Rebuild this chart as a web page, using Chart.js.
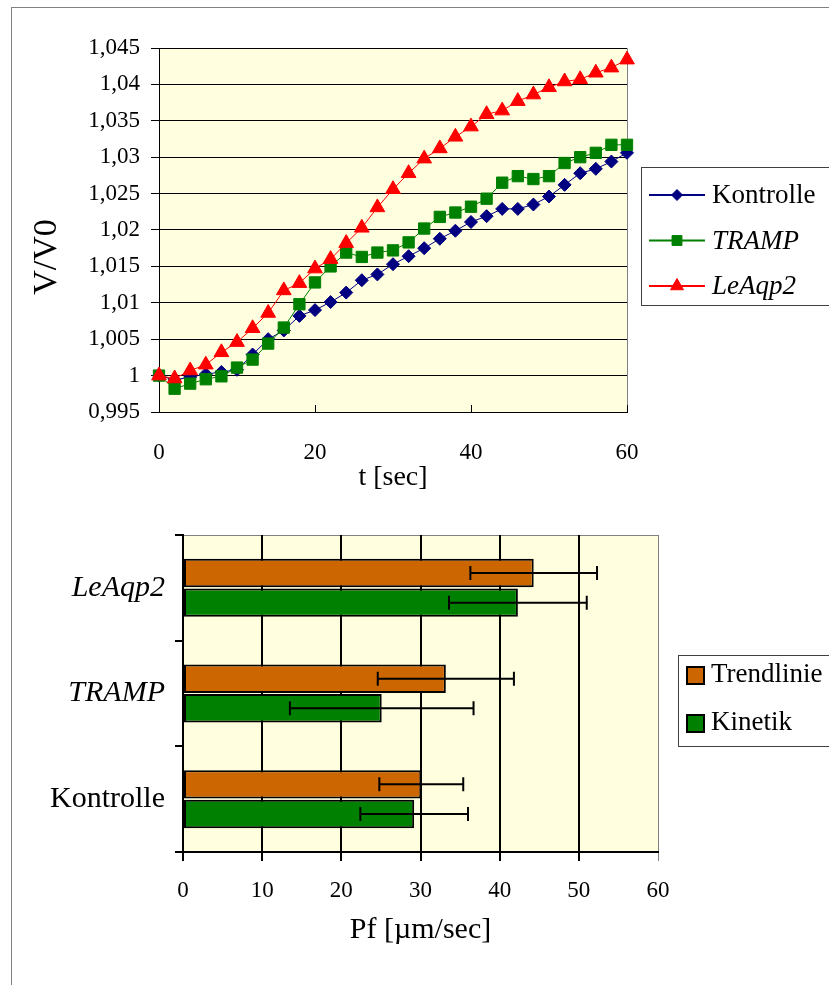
<!DOCTYPE html>
<html>
<head>
<meta charset="utf-8">
<script src="https://cdn.jsdelivr.net/npm/chart.js@4/dist/chart.umd.min.js"></script>
<style>
  body { margin: 0; background: #fff; width: 829px; height: 985px; overflow: hidden; position: relative; }
  #frame { position: absolute; left: 11px; top: 7px; width: 900px; height: 1100px; border: 1px solid #808080; }
  #lineChart { position: absolute; left: 0; top: 0; }
  #barChart { position: absolute; left: 0; top: 500px; }
</style>
</head>
<body>
<div id="frame"></div>
<canvas id="lineChart" width="829" height="500"></canvas>
<canvas id="barChart" width="829" height="485"></canvas>

<script>
    // swelling kinetics, V/V0 over time
    var time = [0, 2, 4, 6, 8, 10, 12, 14, 16, 18, 20, 22, 24, 26, 28, 30,
                32, 34, 36, 38, 40, 42, 44, 46, 48, 50, 52, 54, 56, 58, 60];
    var kontrolle = [1.0000, 0.9994, 0.9998, 1.0002, 1.0005, 1.0008, 1.0029, 1.0050, 1.0062, 1.0082, 1.0090,
                     1.0101, 1.0114, 1.0131, 1.0139, 1.0153, 1.0164, 1.0175, 1.0188, 1.0199, 1.0211,
                     1.0219, 1.0229, 1.0229, 1.0235, 1.0246, 1.0262, 1.0278, 1.0284, 1.0294, 1.0306];
    var tramp = [1.0000, 0.9982, 0.9989, 0.9995, 0.9999, 1.0011, 1.0022, 1.0044, 1.0066, 1.0098, 1.0128,
                 1.0150, 1.0169, 1.0163, 1.0169, 1.0172, 1.0183, 1.0202, 1.0218, 1.0224, 1.0232,
                 1.0243, 1.0265, 1.0274, 1.0270, 1.0274, 1.0292, 1.0300, 1.0306, 1.0317, 1.0317];
    var leaqp2 = [1.0000, 0.9996, 1.0007, 1.0015, 1.0032, 1.0046, 1.0065, 1.0086, 1.0117, 1.0127, 1.0147,
                  1.0160, 1.0182, 1.0203, 1.0231, 1.0256, 1.0278, 1.0298, 1.0312, 1.0328, 1.0342,
                  1.0359, 1.0364, 1.0377, 1.0386, 1.0396, 1.0404, 1.0407, 1.0416, 1.0423, 1.0434];
    var seriesNames = ['Kontrolle', 'TRAMP', 'LeAqp2'];

    // Pf values with error
    var groups = ['LeAqp2', 'TRAMP', 'Kontrolle'];
    var barNames = ['Trendlinie', 'Kinetik'];
    var trendlinie = [44.3, 33.2, 30.1];
    var trendlinieErr = [8.0, 8.6, 5.3];
    var kinetik = [42.3, 25.1, 29.2];
    var kinetikErr = [8.7, 11.6, 6.8];

    var FONT = "'Liberation Serif', 'Times New Roman', serif";
    var italicNames = { 'TRAMP': true, 'LeAqp2': true };

    function pairs(xs, ys) {
        return xs.map(function (x, i) { return { x: x, y: ys[i] }; });
    }
    function px(v) { return Math.round(v) + 0.5; }

    // background + grey frame of the plot area
    var plotFrame = {
        id: 'plotFrame',
        beforeDraw: function (chart) {
            var a = chart.chartArea, c = chart.ctx;
            c.save();
            c.fillStyle = '#FFFFE0';
            c.fillRect(a.left, a.top, a.right - a.left, a.bottom - a.top);
            c.strokeStyle = '#808080';
            c.lineWidth = 1;
            c.beginPath();
            c.moveTo(px(a.left), px(a.top));
            c.lineTo(px(a.right), px(a.top));
            c.lineTo(px(a.right), px(a.bottom));
            c.stroke();
            c.restore();
        }
    };

    // small inward tick marks on the time axis + the rotated y title + legend
    var lineExtras = {
        id: 'lineExtras',
        afterDraw: function (chart) {
            var c = chart.ctx, xs = chart.scales.x, a = chart.chartArea;
            c.save();
            c.strokeStyle = '#000';
            c.lineWidth = 1;
            xs.ticks.forEach(function (t) {
                var x = px(xs.getPixelForValue(t.value));
                c.beginPath(); c.moveTo(x, a.bottom); c.lineTo(x, a.bottom - 7); c.stroke();
            });
            c.fillStyle = '#000';
            c.font = '34px ' + FONT;
            c.textAlign = 'center';
            c.textBaseline = 'middle';
            c.translate(47, 257);
            c.rotate(-Math.PI / 2);
            c.fillText('V/V0', 0, 0);
            c.restore();

            // legend box
            c.save();
            c.fillStyle = '#fff';
            c.fillRect(641, 167, 200, 138);
            c.strokeStyle = '#404040';
            c.strokeRect(641.5, 167.5, 200, 138);
            chart.data.datasets.forEach(function (ds, i) {
                var y = 195 + i * 45.5;
                c.strokeStyle = ds.borderColor;
                c.fillStyle = ds.backgroundColor;
                c.lineWidth = 2;
                c.beginPath(); c.moveTo(649, y); c.lineTo(705, y); c.stroke();
                c.lineWidth = 1;
                Chart.helpers.drawPoint(c, { pointStyle: ds.pointStyle, radius: ds.pointRadius - 1, borderWidth: 1, rotation: 0 }, 677, y);
                c.fillStyle = '#000';
                c.font = (italicNames[ds.label] ? 'italic ' : '') + '27px ' + FONT;
                c.textAlign = 'left';
                c.textBaseline = 'middle';
                c.fillText(ds.label, 712, y + 1);
            });
            c.restore();
        }
    };

    var lineColors = ['#000080', '#008000', '#FF0000'];
    var lineStyles = ['rectRot', 'rect', 'triangle'];
    var lineRadius = [6.5, 8, 8.5];
    var lineSeries = [kontrolle, tramp, leaqp2];

    new Chart(document.getElementById('lineChart'), {
        type: 'line',
        data: {
            datasets: lineSeries.map(function (s, i) {
                return {
                    label: seriesNames[i],
                    data: pairs(time, s),
                    borderColor: lineColors[i],
                    backgroundColor: lineColors[i],
                    borderWidth: 1,
                    pointStyle: lineStyles[i],
                    pointRadius: lineRadius[i],
                    pointBorderWidth: 1,
                    tension: 0,
                    clip: false,
                    order: lineSeries.length - i   // later series drawn on top
                };
            })
        },
        options: {
            responsive: false,
            animation: false,
            layout: { padding: { top: 48, right: 202, left: 0, bottom: 0 } },
            plugins: { legend: { display: false }, tooltip: { enabled: false } },
            scales: {
                x: {
                    type: 'linear', min: 0, max: 60,
                    ticks: { stepSize: 20, color: '#000', padding: 27, font: { family: FONT, size: 23 } },
                    grid: { display: false, drawTicks: false },
                    border: { color: '#000', width: 1 },
                    title: { display: true, text: 't [sec]', color: '#000', font: { family: FONT, size: 28 }, padding: { top: 0, bottom: 6 } },
                    afterFit: function (s) { s.height = 88; }
                },
                y: {
                    min: 0.995, max: 1.045,
                    ticks: {
                        stepSize: 0.005, color: '#000', padding: 11, font: { family: FONT, size: 23 },
                        callback: function (v) { return String(Number(v.toFixed(3))).replace('.', ','); }
                    },
                    grid: { color: '#000', lineWidth: 1, tickLength: 8 },
                    border: { color: '#000', width: 1 },
                    afterFit: function (s) { s.width = 159; }
                }
            }
        },
        plugins: [plotFrame, lineExtras]
    });

    // error bars and legend for the bar chart
    var barExtras = {
        id: 'barExtras',
        afterDatasetsDraw: function (chart) {
            var c = chart.ctx, xs = chart.scales.x;
            c.save();
            c.strokeStyle = '#000';
            c.lineWidth = 2;
            chart.data.datasets.forEach(function (ds, i) {
                var meta = chart.getDatasetMeta(i);
                meta.data.forEach(function (bar, j) {
                    var v = ds.data[j], e = ds.errors[j];
                    var x1 = xs.getPixelForValue(v - e), x2 = xs.getPixelForValue(v + e), y = bar.y;
                    c.beginPath();
                    c.moveTo(x1, y); c.lineTo(x2, y);
                    c.moveTo(x1, y - 7); c.lineTo(x1, y + 7);
                    c.moveTo(x2, y - 7); c.lineTo(x2, y + 7);
                    c.stroke();
                });
            });
            c.restore();
        },
        afterDraw: function (chart) {
            var c = chart.ctx;
            c.save();
            c.fillStyle = '#fff';
            c.fillRect(678, 155, 200, 91);
            c.strokeStyle = '#404040';
            c.lineWidth = 1;
            c.strokeRect(678.5, 155.5, 200, 91);
            chart.data.datasets.forEach(function (ds, i) {
                var y = 175 + i * 48;
                c.fillStyle = ds.backgroundColor;
                c.fillRect(687, y - 8, 17, 17);
                c.strokeStyle = '#000';
                c.lineWidth = 2;
                c.strokeRect(687, y - 8, 17, 17);
                c.fillStyle = '#000';
                c.font = '27px ' + FONT;
                c.textAlign = 'left';
                c.textBaseline = 'middle';
                c.fillText(ds.label, 711, y);
            });
            c.restore();
        }
    };

    new Chart(document.getElementById('barChart'), {
        type: 'bar',
        data: {
            labels: groups,
            datasets: [
                { label: barNames[0], data: trendlinie, errors: trendlinieErr, backgroundColor: '#CC6600', borderColor: '#000', borderWidth: 2, borderSkipped: false },
                { label: barNames[1], data: kinetik, errors: kinetikErr, backgroundColor: '#008000', borderColor: '#000', borderWidth: 2, borderSkipped: false }
            ]
        },
        options: {
            indexAxis: 'y',
            responsive: false,
            animation: false,
            datasets: { bar: { categoryPercentage: 0.56, barPercentage: 0.96 } },
            layout: { padding: { top: 35, right: 171, left: 0, bottom: 0 } },
            plugins: { legend: { display: false }, tooltip: { enabled: false } },
            scales: {
                x: {
                    type: 'linear', min: 0, max: 60,
                    ticks: { stepSize: 10, color: '#000', padding: 16, font: { family: FONT, size: 23 } },
                    grid: {
                        color: function (ctx) { return ctx.tick && ctx.tick.value === 60 ? '#808080' : '#000'; },
                        lineWidth: function (ctx) { return ctx.tick && ctx.tick.value === 60 ? 1 : 2; },
                        tickLength: 9
                    },
                    border: { color: '#000', width: 2 },
                    title: { display: true, text: 'Pf [µm/sec]', color: '#000', font: { family: FONT, size: 30 }, padding: { top: 0, bottom: 37 } },
                    afterFit: function (s) { s.height = 133; }
                },
                y: {
                    type: 'category',
                    ticks: {
                        color: '#000', padding: 10,
                        font: function (ctx) {
                            var name = groups[ctx.index];
                            return { family: FONT, size: 30, style: italicNames[name] ? 'italic' : 'normal' };
                        }
                    },
                    grid: { drawOnChartArea: false, color: '#000', lineWidth: 2, tickLength: 8 },
                    border: { color: '#000', width: 2 },
                    afterFit: function (s) { s.width = 183; }
                }
            }
        },
        plugins: [plotFrame, barExtras]
    });
</script>
</body>
</html>
